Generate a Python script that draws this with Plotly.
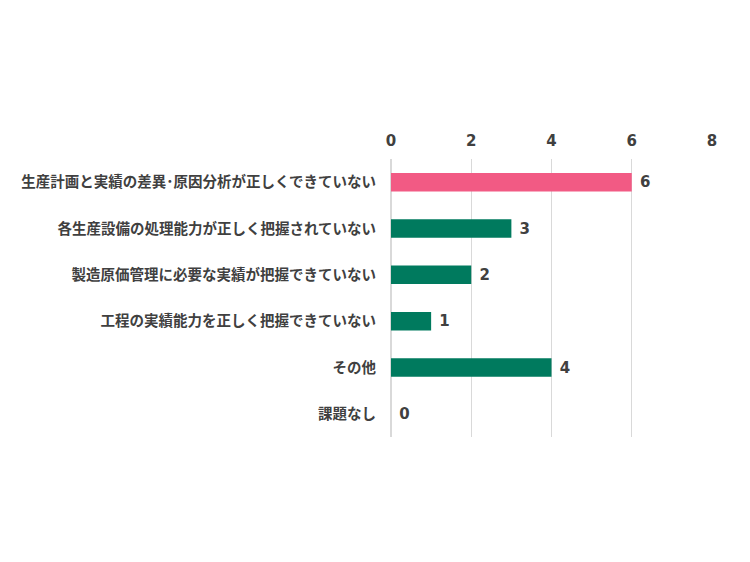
import plotly.graph_objects as go

# 回答項目（上から順）
categories = [
    "生産計画と実績の差異･原因分析が正しくできていない",
    "各生産設備の処理能力が正しく把握されていない",
    "製造原価管理に必要な実績が把握できていない",
    "工程の実績能力を正しく把握できていない",
    "その他",
    "課題なし",
]
counts = [6, 3, 2, 1, 4, 0]
bar_colors = ["#F25A84", "#007A5E", "#007A5E", "#007A5E", "#007A5E", "#007A5E"]

jp_font = "Noto Sans CJK JP"
num_font = "DejaVu Sans"

fig = go.Figure(
    go.Bar(
        x=counts,
        y=categories,
        orientation="h",
        marker=dict(color=bar_colors, line=dict(width=0)),
        text=counts,
        texttemplate=" %{x}",
        textposition="outside",
        textfont=dict(family=num_font, size=15, color="#404040", weight=600),
        cliponaxis=False,
        hoverinfo="x+y",
    )
)

# ページ本体の余白(8px)を考慮してマージンを設定
fig.update_layout(
    width=750,
    height=562,
    margin=dict(l=383, r=46, t=151, b=133),
    paper_bgcolor="white",
    plot_bgcolor="white",
    showlegend=False,
    bargap=0.6,
    font=dict(family=jp_font, color="#404040"),
)

fig.update_xaxes(
    range=[0, 8],
    dtick=2,
    side="top",
    showgrid=True,
    gridcolor="#D9D9D9",
    gridwidth=1,
    zeroline=True,
    zerolinecolor="#D9D9D9",
    showline=False,
    ticks="",
    tickfont=dict(family=num_font, size=15, color="#404040", weight=600),
    ticklabelstandoff=9,
)

fig.update_yaxes(
    autorange="reversed",
    showgrid=False,
    ticks="",
    ticklabelstandoff=14,
    tickfont=dict(family=jp_font, size=14.5, color="#404040", weight=600),
)

fig.write_html("out.html")
